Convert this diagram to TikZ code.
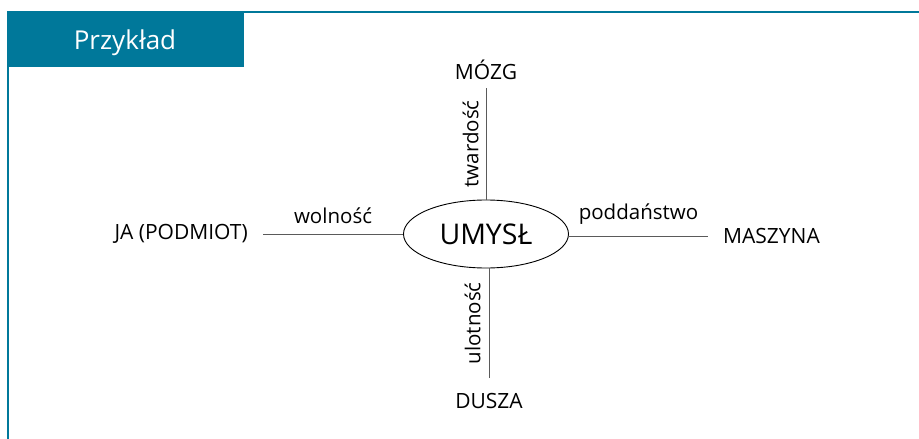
\documentclass[tikz,border=0pt]{standalone}
\usepackage{fontspec}
\setmainfont{Open Sans}
\usepackage{tikz}
\usetikzlibrary{shapes.geometric}
\definecolor{ramka}{HTML}{00789A}
\definecolor{linia}{HTML}{5A5A5A}
\tikzset{%
    pojecie/.style={font=\fontsize{21}{25}\selectfont},
    relacja/.style={font=\fontsize{20.5}{24}\selectfont, text=black, sloped, inner sep=4pt}
}

\begin{document}
\begin{tikzpicture}[x=1pt,y=-1pt]
        \useasboundingbox (0,0) rectangle (919,439);
        \draw[color=ramka, line width=2pt] (919,12) -- (8,12) -- (8,439);
        \fill[color=ramka] (7,11) rectangle (244,67);
        \node[anchor=base, text=white, font=\fontsize{26}{30}\selectfont] (naglowek) at (125,49) {Przykład};

        \node[ellipse, draw, line width=0.9pt, minimum width=165pt, minimum height=68pt, inner sep=0pt, font=\fontsize{28.5}{32}\selectfont] (umysl) at (486,234) {UMYSŁ};

        \node[pojecie, anchor=south, inner sep=8pt] (mozg) at (486,88) {MÓZG};
        \node[pojecie, anchor=north, inner ysep=15pt] (dusza) at (489,378) {DUSZA};
        \node[pojecie, anchor=east, inner xsep=15pt] (ja) at (263,234) {JA (PODMIOT)};
        \node[pojecie, anchor=west, inner xsep=15pt] (maszyna) at (708,236) {MASZYNA};

        \draw[color=linia, line width=0.9pt] (umysl.north) -- (mozg.south) node[relacja, midway, above=3pt] {twardość};
        \draw[color=linia, line width=0.9pt] (dusza.north) -- (dusza.north |- umysl.south) node[relacja, midway, above=4pt] {ulotność};
        \draw[color=linia, line width=0.9pt] (ja.east) -- (ja.east -| umysl.west) node[relacja, midway, above=6pt] {wolność};
        \draw[color=linia, line width=0.9pt] (maszyna.west -| umysl.east) -- (maszyna.west) node[relacja, midway, above=7pt] {poddaństwo};
\end{tikzpicture}
\end{document}
